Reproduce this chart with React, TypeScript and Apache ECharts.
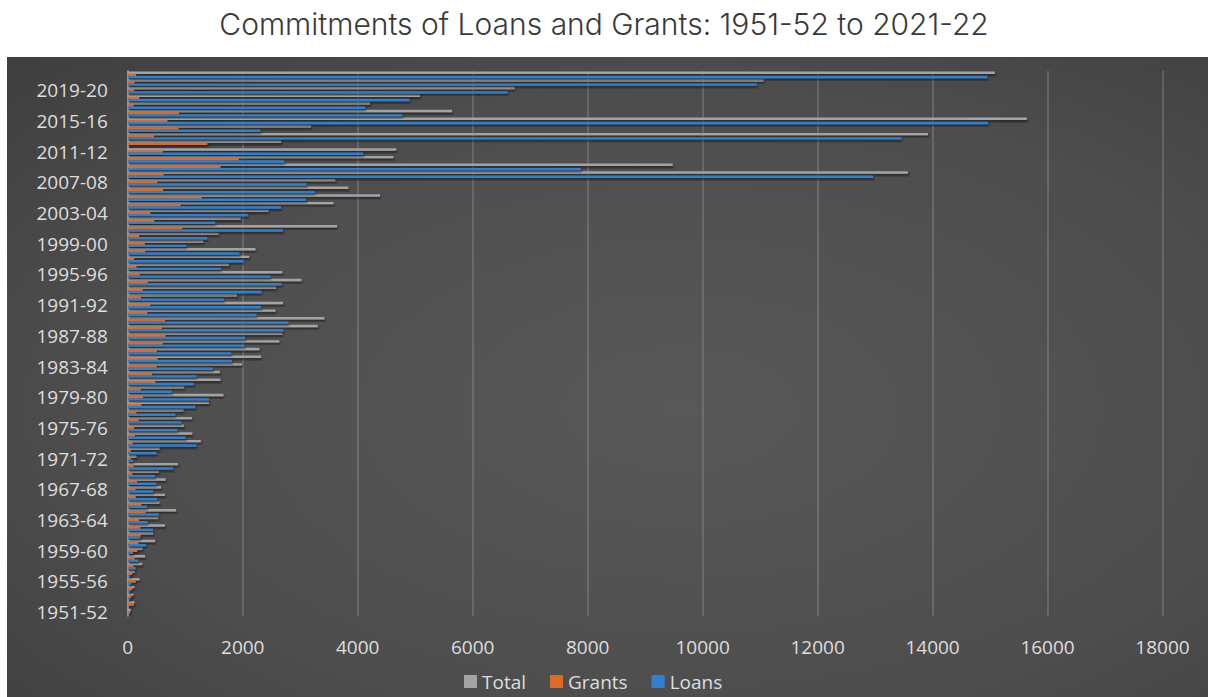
import React, { useEffect, useRef } from "react";
import * as echarts from "echarts";

const categories = [
  "1951-52","1952-53","1953-54","1954-55","1955-56","1956-57","1957-58","1958-59","1959-60","1960-61",
  "1961-62","1962-63","1963-64","1964-65","1965-66","1966-67","1967-68","1968-69","1969-70","1970-71",
  "1971-72","1972-73","1973-74","1974-75","1975-76","1976-77","1977-78","1978-79","1979-80","1980-81",
  "1981-82","1982-83","1983-84","1984-85","1985-86","1986-87","1987-88","1988-89","1989-90","1990-91",
  "1991-92","1992-93","1993-94","1994-95","1995-96","1996-97","1997-98","1998-99","1999-00","2000-01",
  "2001-02","2002-03","2003-04","2004-05","2005-06","2006-07","2007-08","2008-09","2009-10","2010-11",
  "2011-12","2012-13","2013-14","2014-15","2015-16","2016-17","2017-18","2018-19","2019-20","2020-21",
  "2021-22"
];

const loans = [
  10, 10, 35, 40, 60, 40, 140, 180, 90, 314,
  215, 439, 341, 540, 335, 509, 439, 497, 474, 786,
  92, 497, 1191, 1006, 861, 931, 827, 1173, 1410, 763,
  1144, 1196, 1480, 1809, 1798, 2029, 2040, 2705, 2792, 2237,
  2318, 1670, 2324, 2676, 2480, 1618, 2011, 1942, 1017, 1381,
  2699, 1520, 2087, 2665, 3098, 3250, 3110, 12964, 7878, 2722,
  4092, null, 13458, 2306, 14965, 4774, 4127, 4901, 6607, 10944,
  14950
];

const grants = [
  40, 105, 60, 75, 140, 80, 100, 120, 165, 185,
  225, 220, 197, 310, 237, 139, 133, 162, 81, 104,
  52, 52, 87, 121, 110, 190, 150, 237, 266, 225,
  480, 420, 503, 520, 505, 610, 655, 595, 650, 340,
  390, 230, 260, 347, 208, 150, 110, 300, 295, 197,
  948, 460, 393, 919, 1289, 613, 514, 624, 1613, 1931,
  613, 1384, 457, 884, 690, 890, 100, 200, 110, 115,
  145
];

const total = [
  50, 115, 95, 115, 205, 120, 250, 300, 254, 474,
  440, 647, 532, 840, 549, 647, 578, 659, 543, 873,
  150, 555, 1270, 1121, 975, 1115, 970, 1410, 1665, 980,
  1610, 1600, 1985, 2320, 2290, 2636, 2690, 3305, 3420, 2570,
  2700, 1900, 2580, 3023, 2688, 1760, 2110, 2220, 1315, 1578,
  3640, 1965, 2450, 3580, 4387, 3835, 3610, 13570, 9480, 4620,
  4670, 2668, 13920, 3188, 15640, 5641, 4214, 5081, 6728, 11060,
  15083
];

const legendNames = ["Total", "Grants", "Loans"];
const titleText = "Commitments of Loans and Grants: 1951-52 to 2021-22";

const FONT = "'Open Sans', sans-serif";
const LABEL = "#dedede";

export default function App() {
  const ref = useRef<HTMLDivElement>(null);
  useEffect(() => {
    const chart = echarts.init(ref.current!, null, { renderer: "svg" });
    const shadow = {
      shadowColor: "rgba(0,0,0,0.55)",
      shadowBlur: 2,
      shadowOffsetX: 1,
      shadowOffsetY: 2,
    };
    const barCommon = {
      type: "bar",
      barWidth: 2.4,
      barGap: "-10%",
      emphasis: { disabled: true },
    };
    chart.setOption({
      animation: false,
      title: {
        text: titleText,
        left: "center",
        top: 4,
        textStyle: {
          color: "#3a3a3a",
          fontFamily: "Inter, sans-serif",
          fontWeight: 300,
          fontSize: 30,
        },
      },
      graphic: [
        {
          type: "rect",
          z: -10,
          silent: true,
          shape: { x: 7, y: 57, width: 1201, height: 640 },
          style: {
            fill: {
              type: "radial",
              x: 0.56,
              y: 0.55,
              r: 1.1,
              colorStops: [
                { offset: 0, color: "#585858" },
                { offset: 0.45, color: "#4d4d4d" },
                { offset: 0.8, color: "#3a3a3a" },
                { offset: 1, color: "#2c2c2c" },
              ],
            },
          },
        },
      ],
      legend: {
        data: legendNames,
        left: 459,
        top: 667,
        icon: "rect",
        itemWidth: 13,
        itemHeight: 13,
        itemGap: 24,
        textStyle: { color: LABEL, fontFamily: FONT, fontSize: 19 },
      },
      grid: { left: 127.8, right: 45.5, top: 71, bottom: 81, containLabel: false },
      xAxis: {
        type: "value",
        min: 0,
        max: 18000,
        interval: 2000,
        axisLine: { show: false },
        axisTick: { show: false },
        axisLabel: {
          color: LABEL,
          fontFamily: FONT,
          fontSize: 19,
          margin: 21,
          formatter: (v: number) => String(v),
        },
        splitLine: { lineStyle: { color: "rgba(200,200,200,0.28)", width: 1.5 } },
      },
      yAxis: {
        type: "category",
        data: categories,
        axisTick: { show: false },
        axisLine: { show: true, lineStyle: { color: "#b5b5b5", width: 1.5 } },
        axisLabel: { color: LABEL, fontFamily: FONT, fontSize: 19, margin: 20, interval: 3 },
      },
      series: [
        { ...barCommon, name: "Total", data: total, itemStyle: { color: "#a3a3a3", ...shadow } },
        { ...barCommon, name: "Grants", data: grants, itemStyle: { color: "#df6a26", ...shadow } },
        { ...barCommon, name: "Loans", data: loans, itemStyle: { color: "#2f80d0", ...shadow } },
      ],
    });
    return () => chart.dispose();
  }, []);
  return (
    <div
      ref={ref}
      style={{ position: "absolute", left: 0, top: 0, width: 1208, height: 697, background: "#ffffff" }}
    />
  );
}
